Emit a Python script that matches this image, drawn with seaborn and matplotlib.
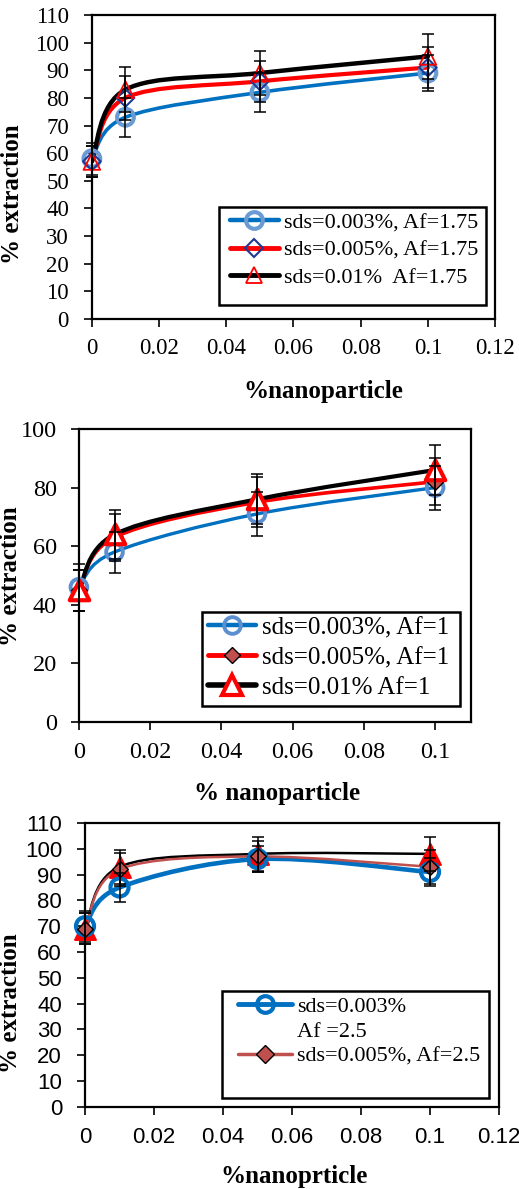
import numpy as np
import pandas as pd
import matplotlib
matplotlib.use("Agg")
import matplotlib.pyplot as plt
import seaborn as sns
from matplotlib.path import Path
from matplotlib.patches import PathPatch, Rectangle
from matplotlib.lines import Line2D

# ---------------- data ----------------
nano = [0, 0.01, 0.05, 0.1]

# panel 1 : Af = 1.75
p1_sds003 = [58, 73, 82, 89]
p1_sds005 = [57, 80, 86, 91]
p1_sds01 = [57, 83, 89, 95]
p1_err003 = [5.8, 7.0, 7.0, 6.5]
p1_err005 = [5.7, 8.0, 7.5, 7.5]
p1_err01 = [5.7, 8.0, 8.0, 8.0]
p1_labels = ["sds=0.003%, Af=1.75", "sds=0.005%, Af=1.75", "sds=0.01%  Af=1.75"]

# panel 2 : Af = 1
p2_sds003 = [46, 58, 71, 80]
p2_sds005 = [45, 63, 75, 82]
p2_sds01 = [45, 64, 76, 86]
p2_err003 = [8.0, 7.0, 7.5, 7.5]
p2_err005 = [7.0, 8.0, 8.5, 8.0]
p2_err01 = [7.0, 8.5, 8.5, 8.5]
p2_labels = ["sds=0.003%, Af=1", "sds=0.005%, Af=1", "sds=0.01% Af=1"]

# panel 3 : Af = 2.5
p3_sds003 = [70, 85, 96, 91]
p3_sds005 = [69, 92, 97, 93]
p3_sds01 = [69, 93, 98, 98]
p3_err003 = [6.0, 5.5, 5.0, 5.5]
p3_err005 = [6.0, 6.5, 6.0, 6.5]
p3_err01 = [6.0, 6.5, 6.5, 6.5]
p3_labels = ["sds=0.003%", "Af =2.5", "sds=0.005%, Af=2.5"]

# ---------------- style ----------------
sns.set_theme(style="ticks")
plt.rcParams["font.family"] = ["Liberation Serif", "DejaVu Serif"]
plt.rcParams["mathtext.default"] = "regular"

SERIF = "Liberation Serif"
SANS = "Liberation Sans"

fig = plt.figure(figsize=(5.19, 11.89), dpi=100)
fig.patch.set_facecolor("white")


def smooth_path(x, y):
    P = np.column_stack([x, y]).astype(float)
    n = len(P)
    verts = [P[0]]
    codes = [Path.MOVETO]
    for i in range(n - 1):
        p0 = P[i - 1] if i > 0 else P[i]
        p3 = P[i + 2] if i + 2 < n else P[i + 1]
        c1 = P[i] + (P[i + 1] - p0) / 6.0
        c2 = P[i + 1] - (p3 - P[i]) / 6.0
        verts += [c1, c2, P[i + 1]]
        codes += [Path.CURVE4] * 3
    return Path(verts, codes)


def draw_series(ax, y, err, line_color, lw, marker, ms, mfc, mec, mew, z):
    ax.add_patch(PathPatch(smooth_path(nano, y), fill=False, edgecolor=line_color,
                           lw=lw, capstyle="round", joinstyle="round", zorder=z))
    df = pd.DataFrame({"nano": nano, "ext": y})
    sns.scatterplot(data=df, x="nano", y="ext", ax=ax, marker=marker, s=ms ** 2,
                    facecolor=mfc, edgecolor=mec, linewidth=mew, zorder=z + 10,
                    legend=False)
    pts = ax.collections[-1]
    pts.set_facecolor(mfc)
    pts.set_edgecolor(mec)
    pts.set_clip_on(False)
    eb = ax.errorbar(nano, y, yerr=err, fmt="none", ecolor="black", elinewidth=1.1,
                     capsize=4.5, capthick=1.1, zorder=30)
    for art in eb.lines[1] + eb.lines[2]:
        art.set_clip_on(False)


def style_axes(ax, xmax, ymax, ystep, xticks, tickfont, ticksize, xlabel,
               xl_pos, yl_pos, ypad, xpad):
    ax.set_xlim(0, xmax)
    ax.set_ylim(0, ymax)
    ax.set_xticks(xticks)
    ax.set_xticklabels([("%g" % t) for t in xticks])
    ax.set_yticks(np.arange(0, ymax + 0.1, ystep))
    for s in ax.spines.values():
        s.set_visible(True)
        s.set_color("black")
        s.set_linewidth(1.6)
    ax.tick_params(axis="both", direction="out", length=5.5, width=1.2, color="black",
                   labelsize=ticksize, labelfontfamily=tickfont, labelcolor="black")
    ax.tick_params(axis="y", pad=ypad)
    ax.tick_params(axis="x", pad=xpad)
    ax.set_xlabel(xlabel, fontsize=18, fontweight="bold", family=SERIF, color="black")
    ax.set_ylabel("% extraction", fontsize=18, fontweight="bold", family=SERIF,
                  color="black")
    ax.xaxis.set_label_coords(*xl_pos)
    ax.yaxis.set_label_coords(*yl_pos)
    ax.set_facecolor("white")
    ax.grid(False)


def legend_box(ax, x0, y0, x1, y1, handles, labels, fontsize, hl, spacing,
               anchor):
    ax.add_patch(Rectangle((x0, y0), x1 - x0, y1 - y0, transform=ax.transAxes,
                           facecolor="white", edgecolor="black", lw=1.8, zorder=40))
    leg = ax.legend(handles, labels, loc="upper left", bbox_to_anchor=anchor,
                    frameon=False, borderpad=0, borderaxespad=0,
                    handlelength=hl, handletextpad=0.25, labelspacing=spacing,
                    prop={"family": SERIF, "size": fontsize})
    leg.set_zorder(50)
    for t in leg.get_texts():
        t.set_color("black")


# ---------------- panel 1 ----------------
ax1 = fig.add_axes([0.177, 0.7317, 0.777, 0.2557])
draw_series(ax1, p1_sds003, p1_err003, "#0070c0", 2.6, "o", 12, "none", "#6a9bd3", 3.0, 3)
draw_series(ax1, p1_sds005, p1_err005, "#ff0000", 3.0, "D", 9, "none", "#1f3a93", 1.5, 4)
draw_series(ax1, p1_sds01, p1_err01, "#000000", 3.2, "^", 12, "none", "#ff0000", 1.3, 5)
style_axes(ax1, 0.12, 110, 10, [0, 0.02, 0.04, 0.06, 0.08, 0.1, 0.12], SERIF, 16.5,
           "%nanoparticle", (0.573, -0.2), (-0.168, 0.41), 11, 8.5)
h1 = [Line2D([], [], color="#0070c0", lw=3.2, marker="o", ms=12, mfc="none", mec="#6a9bd3", mew=3),
      Line2D([], [], color="#ff0000", lw=3.5, marker="D", ms=9, mfc="none", mec="#1f3a93", mew=1.5),
      Line2D([], [], color="#000000", lw=3.5, marker="^", ms=12, mfc="none", mec="#ff0000", mew=1.3)]
legend_box(ax1, 0.315, 0.046, 0.978, 0.368, h1, p1_labels, 16, 2.2, 0.3,
           (0.342, 0.35))

# ---------------- panel 2 ----------------
ax2 = fig.add_axes([0.152, 0.3928, 0.755, 0.2464])
draw_series(ax2, p2_sds003, p2_err003, "#0070c0", 2.4, "o", 12, "none", "#5b8fd0", 2.8, 3)
draw_series(ax2, p2_sds005, p2_err005, "#ff0000", 2.6, "D", 8, "#c0504d", "black", 1.0, 4)
draw_series(ax2, p2_sds01, p2_err01, "#000000", 3.0, "^", 14, "white", "#ff0000", 3.0, 5)
style_axes(ax2, 0.11, 100, 20, [0, 0.02, 0.04, 0.06, 0.08, 0.1], SERIF, 17.5,
           "% nanoparticle", (0.505, -0.205), (-0.145, 0.498), 10.5, 9)
h2 = [Line2D([], [], color="#0070c0", lw=3.2, marker="o", ms=12, mfc="none", mec="#5b8fd0", mew=2.8),
      Line2D([], [], color="#ff0000", lw=3.5, marker="D", ms=8, mfc="#c0504d", mec="black", mew=1.0),
      Line2D([], [], color="#000000", lw=4.0, marker="^", ms=14, mfc="white", mec="#ff0000", mew=3.0)]
legend_box(ax2, 0.314, 0.055, 0.972, 0.375, h2, p2_labels, 18, 1.9, 0.3,
           (0.33, 0.36))

# ---------------- panel 3 ----------------
ax3 = fig.add_axes([0.1638, 0.069, 0.7977, 0.2389])
draw_series(ax3, p3_sds003, p3_err003, "#0070c0", 3.3, "o", 13, "none", "#0070c0", 3.0, 3)
draw_series(ax3, p3_sds005, p3_err005, "#c0504d", 1.8, "D", 8, "#c0504d", "black", 1.0, 4)
draw_series(ax3, p3_sds01, p3_err01, "#000000", 1.8, "^", 15, "#ff0000", "#ff0000", 1.5, 2)
style_axes(ax3, 0.12, 110, 10, [0, 0.02, 0.04, 0.06, 0.08, 0.1, 0.12], SANS, 16,
           "%nanoprticle", (0.505, -0.205), (-0.152, 0.366), 11, 9)
h3 = [Line2D([], [], color="#0070c0", lw=3.5, marker="o", ms=12, mfc="none", mec="#0070c0", mew=3),
      Line2D([], [], color="none", lw=0),
      Line2D([], [], color="#c0504d", lw=2.5, marker="D", ms=9, mfc="#c0504d", mec="black", mew=1.0)]
legend_box(ax3, 0.331, 0.032, 0.976, 0.408, h3, p3_labels, 16, 2.4, 0.2,
           (0.37, 0.39))

fig.savefig("out.png", dpi=100, facecolor="white")
